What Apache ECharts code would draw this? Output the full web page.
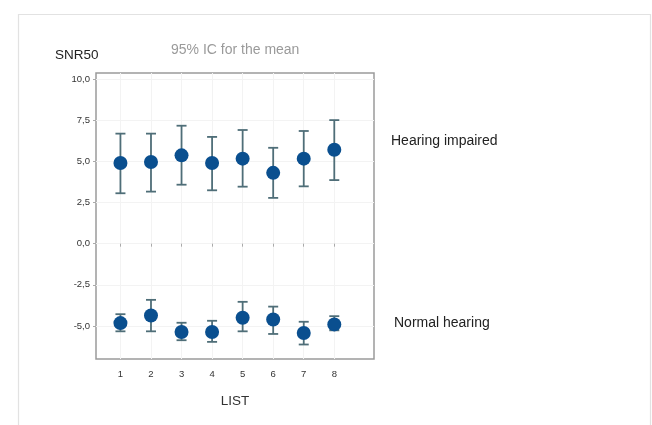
<!DOCTYPE html>
<html>
<head>
<meta charset="utf-8">
<script src="https://cdn.jsdelivr.net/npm/echarts@6/dist/echarts.min.js"></script>
<style>html,body{margin:0;padding:0;background:#fff}#c{width:652px;height:425px}</style>
</head>
<body>
<div id="c"></div>
<script>
const lists = [1, 2, 3, 4, 5, 6, 7, 8];
const hiMean  = [4.90, 4.96, 5.36, 4.90, 5.16, 4.30, 5.16, 5.70];
const hiUpper = [6.68, 6.68, 7.16, 6.48, 6.90, 5.82, 6.84, 7.50];
const hiLower = [3.06, 3.16, 3.58, 3.24, 3.46, 2.78, 3.48, 3.86];
const nhMean  = [-4.82, -4.36, -5.36, -5.36, -4.50, -4.60, -5.42, -4.90];
const nhUpper = [-4.28, -3.41, -4.80, -4.68, -3.53, -3.82, -4.74, -4.40];
const nhLower = [-5.32, -5.32, -5.86, -5.96, -5.32, -5.48, -6.12, -5.26];
const yTicks = [-5, -2.5, 0, 2.5, 5, 7.5, 10];

const chart = echarts.init(document.getElementById('c'), null, {renderer: 'canvas'});

function errData(up, lo) {
  return lists.map((x, i) => [x, lo[i], up[i]]);
}
function renderErr(params, api) {
  const x = api.value(0);
  const lo = api.coord([x, api.value(1)]);
  const hi = api.coord([x, api.value(2)]);
  const w = 5;
  const st = {stroke: '#4f6e78', lineWidth: 1.8};
  return {
    type: 'group',
    children: [
      {type: 'line', shape: {x1: hi[0], y1: hi[1], x2: lo[0], y2: lo[1]}, style: st},
      {type: 'line', shape: {x1: hi[0] - w, y1: hi[1], x2: hi[0] + w, y2: hi[1]}, style: st},
      {type: 'line', shape: {x1: lo[0] - w, y1: lo[1], x2: lo[0] + w, y2: lo[1]}, style: st}
    ]
  };
}
const fmt = v => Number(v).toFixed(1).replace('.', ',');

chart.setOption({
  animation: false,
  backgroundColor: '#fff',
  title: {
    text: '95% IC for the mean',
    left: 166, top: 38,
    textStyle: {fontFamily: 'Liberation Sans', fontSize: 14, fontWeight: 'normal', color: '#9a9a9a'}
  },
  graphic: [
    {type: 'rect', left: 16, top: 12, shape: {width: 632, height: 430},
     style: {fill: 'none', stroke: '#e2e2e2', lineWidth: 1.2}, silent: true},
    {type: 'text', left: 55, top: 48,
     style: {text: 'SNR50', font: '13.5px "Liberation Sans"', fill: '#222'}},
    {type: 'text', left: 391, top: 134,
     style: {text: 'Hearing impaired', font: '14px "Liberation Sans"', fill: '#222'}},
    {type: 'text', left: 394, top: 316,
     style: {text: 'Normal hearing', font: '14px "Liberation Sans"', fill: '#222'}}
  ],
  grid: {
    left: 96, top: 73, right: 278, bottom: 66,
    show: true, borderColor: '#9a9a9a', borderWidth: 1.5, backgroundColor: '#fff'
  },
  xAxis: {
    type: 'value', min: 0.2, max: 9.3,
    name: 'LIST', nameLocation: 'middle', nameGap: 35,
    nameTextStyle: {fontFamily: 'Liberation Sans', fontSize: 13.5, color: '#333'},
    axisLine: {show: false},
    axisTick: {show: true, customValues: lists, length: 3, lineStyle: {color: '#aaa'}},
    axisLabel: {customValues: lists, margin: 10, fontSize: 9.5, color: '#333', fontFamily: 'Liberation Sans'},
    splitLine: {show: true, customValues: lists, lineStyle: {color: '#f3f3f3', width: 1}}
  },
  yAxis: {
    type: 'value', min: -7, max: 10.36,
    axisLine: {show: false},
    axisTick: {show: true, customValues: yTicks, length: 3, lineStyle: {color: '#aaa'}},
    axisLabel: {customValues: yTicks, margin: 6, fontSize: 9.5, color: '#333', fontFamily: 'Liberation Sans', formatter: fmt},
    splitLine: {show: true, customValues: yTicks, lineStyle: {color: '#f3f3f3', width: 1}}
  },
  series: [
    {type: 'custom', name: 'HI CI', renderItem: renderErr, data: errData(hiUpper, hiLower), z: 2},
    {type: 'custom', name: 'NH CI', renderItem: renderErr, data: errData(nhUpper, nhLower), z: 2},
    {type: 'scatter', name: 'Hearing impaired', symbolSize: 14, itemStyle: {color: '#0a4f8f', opacity: 1},
     data: lists.map((x, i) => [x, hiMean[i]]), z: 3},
    {type: 'scatter', name: 'Normal hearing', symbolSize: 14, itemStyle: {color: '#0a4f8f', opacity: 1},
     data: lists.map((x, i) => [x, nhMean[i]]), z: 3}
  ]
});
</script>
</body>
</html>
